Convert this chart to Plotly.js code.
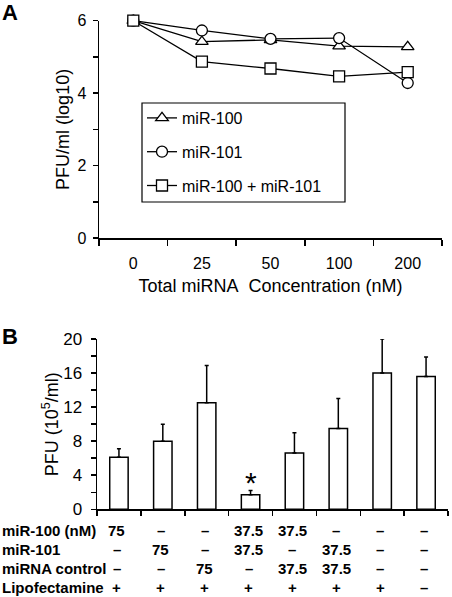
<!DOCTYPE html>
<html>
<head>
<meta charset="utf-8">
<script src="https://cdn.plot.ly/plotly-3.0.1.min.js"></script>
<style>
html,body{margin:0;padding:0;background:#fff;}
#chart{width:452px;height:597px;}
</style>
</head>
<body>
<div id="chart"></div>
<script>
// ---- Panel A data ----
const concentrations = ['0', '25', '50', '100', '200'];
const mir100 = [6.0, 5.42, 5.47, 5.30, 5.28];
const mir101 = [6.0, 5.73, 5.50, 5.52, 4.28];
const combo = [6.0, 4.87, 4.68, 4.46, 4.58];
const seriesNames = ['miR-100', 'miR-101', 'miR-100 + miR-101'];
const yTicksA = [0, 1, 2, 3, 4, 5, 6];
const yTickTextA = ['0', '', '2', '', '4', '', '6'];

// ---- Panel B data ----
const conditions = ['miR-100', 'miR-101', 'control', 'miR-100+miR-101', 'miR-100+control', 'miR-101+control', 'Lipofectamine only', 'Mock'];
const pfu = [6.1, 8.0, 12.5, 1.7, 6.6, 9.5, 16.0, 15.6];
const pfuErr = [1.0, 2.0, 4.4, 0.5, 2.4, 3.5, 4.0, 2.3];
const yTicksB = [0, 2, 4, 6, 8, 10, 12, 14, 16, 18, 20];
const yTickTextB = ['0', '', '4', '', '8', '', '12', '', '16', '', '20'];

// ---- Table under panel B ----
const rowLabels = ['miR-100 (nM)', 'miR-101', 'miRNA control', 'Lipofectamine'];
const rowMir100 = ['75', '–', '–', '37.5', '37.5', '–', '–', '–'];
const rowMir101 = ['–', '75', '–', '37.5', '–', '37.5', '–', '–'];
const rowControl = ['–', '–', '75', '–', '37.5', '37.5', '–', '–'];
const rowLipo = ['+', '+', '+', '+', '+', '+', '+', '–'];
const significant = ['miR-100+miR-101'];

const W = 452, H = 597;
const px = x => x / W;
const py = y => 1 - y / H;
const FONT = 'Liberation Sans, Arial, sans-serif';

const symbols = ['triangle-up', 'circle', 'square'];
const seriesData = [mir100, mir101, combo];
const traces = seriesData.map((vals, i) => ({
  type: 'scatter', mode: 'lines+markers',
  x: concentrations, y: vals, name: seriesNames[i],
  xaxis: 'x', yaxis: 'y', cliponaxis: false,
  legendgroup: 'g' + i,
  line: {color: 'black', width: 1.3},
  marker: {symbol: symbols[i], size: 11, color: 'white', line: {color: 'black', width: 1.3}}
}));

traces.push({
  type: 'bar', x: conditions, y: pfu, xaxis: 'x2', yaxis: 'y2', showlegend: false,
  width: 0.42,
  marker: {color: 'white', line: {color: 'black', width: 1.5}},
  error_y: {type: 'data', symmetric: false, array: pfuErr, arrayminus: pfu.map(() => 0),
            color: 'black', thickness: 1.5, width: 2}
});

const annotations = [];
annotations.push({text: '<b>A</b>', xref: 'paper', yref: 'paper', x: px(0), y: py(-2), xanchor: 'left', yanchor: 'top', showarrow: false, font: {size: 22, family: FONT, color: 'black'}});
annotations.push({text: '<b>B</b>', xref: 'paper', yref: 'paper', x: px(0), y: py(322), xanchor: 'left', yanchor: 'top', showarrow: false, font: {size: 22, family: FONT, color: 'black'}});

// asterisk for significant condition
significant.forEach(c => {
  const i = conditions.indexOf(c);
  annotations.push({text: '*', xref: 'x2', yref: 'y2', x: c, y: pfu[i] + pfuErr[i], yanchor: 'bottom', yshift: -10, showarrow: false, font: {size: 30, family: FONT, color: 'black'}});
});

const rows = [rowMir100, rowMir101, rowControl, rowLipo];
const rowY = [530, 549, 568, 587];
rows.forEach((row, r) => {
  annotations.push({text: '<b>' + rowLabels[r] + '</b>', xref: 'paper', yref: 'paper', x: px(0), y: py(rowY[r]), xanchor: 'left', yanchor: 'middle', showarrow: false, font: {size: 15, family: FONT, color: 'black'}});
  row.forEach((v, c) => {
    annotations.push({text: '<b>' + v + '</b>', xref: 'x2', yref: 'paper', x: conditions[c], y: py(rowY[r]), xanchor: 'center', yanchor: 'middle', xshift: -2, showarrow: false, font: {size: 15, family: FONT, color: 'black'}});
  });
});

const axisCommon = {showline: true, linecolor: 'black', linewidth: 1.5, ticks: 'outside', tickcolor: 'black', tickwidth: 1.5, showgrid: false, zeroline: false, fixedrange: true};

const layout = {
  width: W, height: H,
  margin: {l: 0, r: 0, t: 0, b: 0},
  paper_bgcolor: 'white', plot_bgcolor: 'white',
  font: {family: FONT, color: 'black', size: 16},
  showlegend: true,
  legend: {x: px(142), y: py(101), xanchor: 'left', yanchor: 'top', bgcolor: 'rgba(0,0,0,0)', borderwidth: 0,
           font: {size: 16, family: FONT, color: 'black'}, traceorder: 'grouped', tracegroupgap: 10},
  xaxis: Object.assign({}, axisCommon, {
    domain: [px(99), px(442)], anchor: 'y', type: 'category', range: [-0.5, concentrations.length - 0.5],
    tickson: 'boundaries', ticklen: 6, ticklabelstandoff: 10,
    tickfont: {size: 16}, title: {text: 'Total miRNA&nbsp; Concentration (nM)', font: {size: 18}, standoff: 8}
  }),
  yaxis: Object.assign({}, axisCommon, {
    domain: [py(238), py(20.7)], anchor: 'x', range: [0, 6], tickvals: yTicksA, ticktext: yTickTextA, ticklen: 5,
    ticklabelstandoff: 3,
    tickfont: {size: 16}, title: {text: 'PFU/ml (log10)', font: {size: 18}, standoff: 3}
  }),
  xaxis2: Object.assign({}, axisCommon, {
    domain: [px(97), px(448)], anchor: 'y2', type: 'category', range: [-0.5, conditions.length - 0.5],
    tickson: 'boundaries', ticklen: 5, showticklabels: false
  }),
  yaxis2: Object.assign({}, axisCommon, {
    domain: [py(509.3), py(339)], anchor: 'x2', range: [0, 20], tickvals: yTicksB, ticktext: yTickTextB, ticklen: 5,
    ticklabelstandoff: 5,
    tickfont: {size: 17}, title: {text: 'PFU (10<sup>5</sup>/ml)', font: {size: 18}, standoff: 0}
  }),
  shapes: [{type: 'rect', xref: 'paper', yref: 'paper', x0: px(142), x1: px(345), y0: py(202), y1: py(103), line: {color: 'black', width: 1.2}}],
  annotations: annotations
};

Plotly.newPlot('chart', traces, layout, {staticPlot: true, displayModeBar: false});
</script>
</body>
</html>
